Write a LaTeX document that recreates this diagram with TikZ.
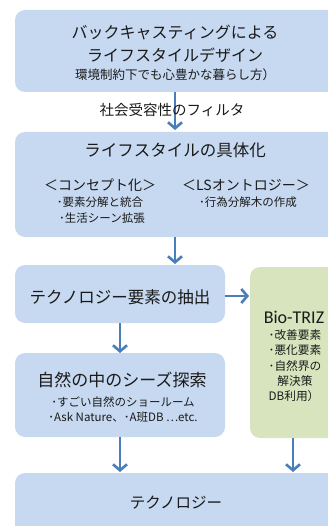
\documentclass[tikz,border=0pt]{standalone}
\usepackage{fontspec}
\setmainfont{Noto Sans CJK JP}
\newfontfamily\latinf{Carlito}
\usetikzlibrary{arrows.meta}
\definecolor{boxblue}{HTML}{C6D9F0}
\definecolor{boxgreen}{HTML}{D7E4BD}
\definecolor{arrblue}{HTML}{4A7EBB}
\definecolor{txt}{HTML}{1A1A1A}
\begin{document}
\begin{tikzpicture}[x=1pt,y=-1pt,
  box/.style={rounded corners=10pt,draw=none,inner sep=0pt,outer sep=0pt,anchor=north west},
  bluebox/.style={box,fill=boxblue},
  greenbox/.style={box,fill=boxgreen},
  lbl/.style={inner sep=0pt,text=txt,font=\fontsize{#1}{#1}\selectfont},
  arr/.style={draw=arrblue,line width=2.6pt,-{Straight Barb[length=6pt,width=14pt]}}
]
\useasboundingbox (0,0) rectangle (328,526);
\clip (0,0) rectangle (328,526);
% boxes
\node[bluebox,minimum width=330pt,minimum height=82pt] (b1) at (15,10) {};
\node[bluebox,minimum width=330pt,minimum height=105pt] (b2) at (15,132) {};
\node[bluebox,minimum width=210pt,minimum height=58pt] (b3) at (15,265) {};
\node[greenbox,minimum width=95pt,minimum height=171pt] (g) at (250,267) {};
\node[bluebox,minimum width=210pt,minimum height=84pt] (b4) at (15,353) {};
\node[bluebox,minimum width=330pt,minimum height=70pt] (b5) at (15,473) {};
% coordinates for arrows
\coordinate (xa) at (175,0);
\coordinate (xb) at (120,0);
\coordinate (xg) at (293,0);
\coordinate (yh) at (0,296);
% arrows
\draw[arr] (b1.south -| xa) -- ([yshift=2pt]b2.north -| xa);
\draw[arr] (b2.south -| xa) -- ([yshift=1pt]b3.north -| xa);
\draw[arr] (b3.east |- yh) -- ([xshift=-1pt]g.west |- yh);
\draw[arr] (b3.south -| xb) -- (b4.north -| xb);
\draw[arr] (b4.south -| xb) -- ([yshift=1pt]b5.north -| xb);
\draw[arr] (g.south -| xg) -- ([yshift=1pt]b5.north -| xg);
% texts box1
\node[lbl=16] (t1a) at (175,33) {バックキャスティングによる};
\node[lbl=16] (t1b) at (175,55) {ライフスタイルデザイン};
\node[lbl=12.5] (t1c) at (175,75) {環境制約下でも心豊かな暮らし方）};
\node[lbl=14.5] (filt) at (172,110) {社会受容性のフィルタ};
% box2
\node[lbl=16.5] (t2) at (175,150) {ライフスタイルの具体化};
\node[lbl=14] (c1) at (100,185) {＜コンセプト化＞};
\node[lbl=14] (c2) at (246,185) {＜LSオントロジー＞};
\node[lbl=11.5] (c1a) at (100,202) {･要素分解と統合};
\node[lbl=11.5] (c1b) at (102,218) {･生活シーン拡張};
\node[lbl=11.5] (c2a) at (248,202) {･行為分解木の作成};
% box3
\node[lbl=16.5] (t3) at (120,297) {テクノロジー要素の抽出};
% green
\node[lbl=18,font=\latinf\fontsize{18}{18}\selectfont] (gt) at (294,317) {Bio-TRIZ};
\node[lbl=11.7] (g1) at (295,335) {･改善要素};
\node[lbl=11.7] (g2) at (295,350) {･悪化要素};
\node[lbl=11.7] (g3) at (295,366) {･自然界の};
\node[lbl=11.7] (g4) at (295,381) {解決策};
\node[lbl=11.7] (g5) at (294,396) {DB利用）};
% box4
\node[lbl=17] (t4) at (122,380) {自然の中のシーズ探索};
\node[lbl=11.5] (t4a) at (123,402) {･すごい自然のショールーム};
\node[lbl=11.5] (t4b) at (123,417) {･Ask Nature、･A班DB …etc.};
% box5
\node[lbl=15.5] (t5) at (176,503) {テクノロジー};
\end{tikzpicture}
\end{document}
